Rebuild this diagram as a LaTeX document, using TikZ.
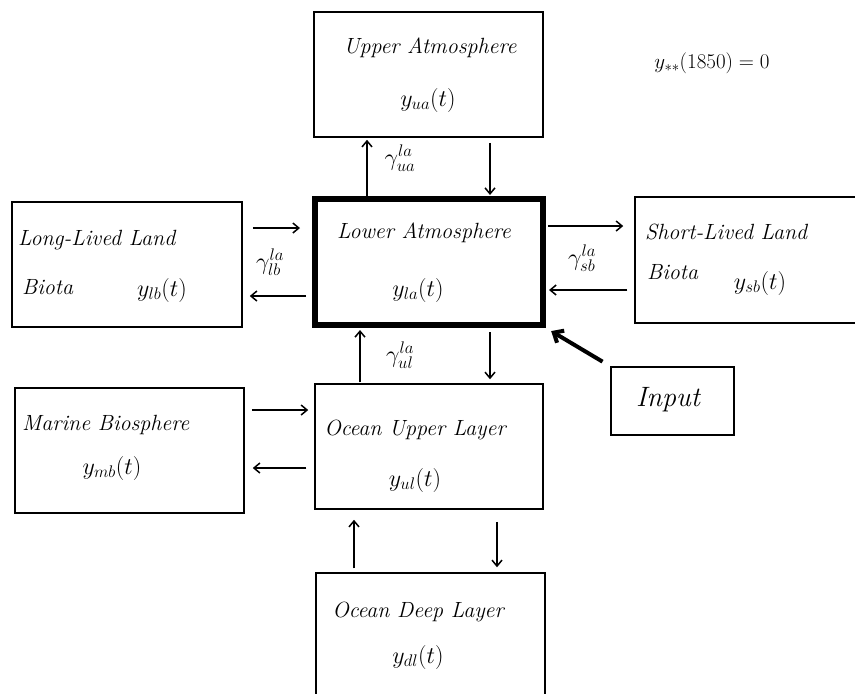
\RequirePackage{fix-cm}
\documentclass[tikz,border=0pt]{standalone}
\usetikzlibrary{arrows.meta,calc}
\begin{document}
\begin{tikzpicture}[x=1pt,y=-1pt,
  box/.style={draw,line width=1.5pt,inner sep=0pt,minimum width=#1},
  txt/.style={font=\fontsize{22}{26}\itshape,inner sep=0pt},
  lbl/.style={font=\fontsize{24}{28}\selectfont,inner sep=0pt},
  arr/.style={line width=1.5pt,-{Straight Barb[length=6pt,width=10pt,line width=1.5pt]}},
  thickarr/.style={line width=4pt,-{Straight Barb[length=8pt,width=14pt,line width=4pt]}}]
\useasboundingbox (0,0) rectangle (855,694);
\clip (0,0) rectangle (855,694);
\fill[white] (0,0) rectangle (855,694);
% boxes
\node[box=229pt,minimum height=125pt] (ua) at (428.5,74.5) {};
\node[draw,line width=6pt,inner sep=0pt,minimum width=228pt,minimum height=126pt] (la) at (429,262) {};
\node[box=230pt,minimum height=125pt] (lb) at (127,264.5) {};
\node[box=250pt,minimum height=126pt] (sb) at (760,260) {};
\node[box=229pt,minimum height=125pt] (mb) at (129.5,450.5) {};
\node[box=228pt,minimum height=125pt] (ul) at (429,446.5) {};
\node[box=229pt,minimum height=135pt] (dl) at (430.5,640.5) {};
\node[box=123pt,minimum height=68pt] (in) at (672.5,401) {};
% texts
\node[txt] (tua) at (430,48) {Upper Atmosphere};
\node[lbl] (yua) at (428,100) {$y_{ua}(t)$};
\node[txt] (tla) at (424,233) {Lower Atmosphere};
\node[lbl] (yla) at (418,290) {$y_{la}(t)$};
\node[txt,anchor=west] (tlb) at (18,240) {Long-Lived Land};
\node[txt,anchor=west] (blb) at (22,287) {Biota};
\node[lbl] (ylb) at (162,290) {$y_{lb}(t)$};
\node[txt,anchor=west] (tsb) at (645,232) {Short-Lived Land};
\node[txt,anchor=west] (bsb) at (647,272) {Biota};
\node[lbl] (ysb) at (760,283) {$y_{sb}(t)$};
\node[txt,anchor=west] (tmb) at (22,425) {Marine Biosphere};
\node[lbl] (ymb) at (112,468) {$y_{mb}(t)$};
\node[txt] (tul) at (415,430) {Ocean Upper Layer};
\node[lbl] (yul) at (415,480) {$y_{ul}(t)$};
\node[txt] (tdl) at (418,612) {Ocean Deep Layer};
\node[lbl] (ydl) at (418,657) {$y_{dl}(t)$};
\node[txt,font=\fontsize{28}{32}\itshape] (tin) at (668,400) {Input};
\node[lbl,font=\fontsize{21}{25}\selectfont] (init) at (712,63) {$y_{**}(1850)=0$};
% gamma labels
\node[lbl] (gua) at (400,158) {$\gamma^{la}_{ua}$};
\node[lbl] (glb) at (270,262) {$\gamma^{la}_{lb}$};
\node[lbl] (gsb) at (582,258) {$\gamma^{la}_{sb}$};
\node[lbl] (gul) at (400,355) {$\gamma^{la}_{ul}$};
% connectors
\draw[arr,shorten >=2pt] (367,0 |- la.north) -- (367,0 |- ua.south);
\draw[arr,shorten <=5pt,shorten >=1pt] (490,0 |- ua.south) -- (490,0 |- la.north);
\draw[arr,shorten <=10pt,shorten >=12pt] (lb.east |- 0,228) -- (la.west |- 0,228);
\draw[arr,shorten <=6pt,shorten >=7pt] (la.west |- 0,296) -- (lb.east |- 0,296);
\draw[arr,shorten <=2pt,shorten >=11pt] (la.east |- 0,226) -- (sb.west |- 0,226);
\draw[arr,shorten <=7pt,shorten >=3pt] (sb.west |- 0,290) -- (la.east |- 0,290);
\draw[arr,shorten <=1pt,shorten >=2pt] (360,0 |- ul.north) -- (360,0 |- la.south);
\draw[arr,shorten <=4pt,shorten >=4pt] (490,0 |- la.south) -- (490,0 |- ul.north);
\draw[arr,shorten <=7pt,shorten >=6pt] (mb.east |- 0,410) -- (ul.west |- 0,410);
\draw[arr,shorten <=8pt,shorten >=8pt] (ul.west |- 0,468) -- (mb.east |- 0,468);
\draw[arr,shorten <=4pt,shorten >=10pt] (354,0 |- dl.north) -- (354,0 |- ul.south);
\draw[arr,shorten <=12pt,shorten >=5pt] (497,0 |- ul.south) -- (497,0 |- dl.north);
\draw[thickarr,shorten <=9pt,shorten >=6pt] (in.north west) -- (la.south east);
\end{tikzpicture}
\end{document}
